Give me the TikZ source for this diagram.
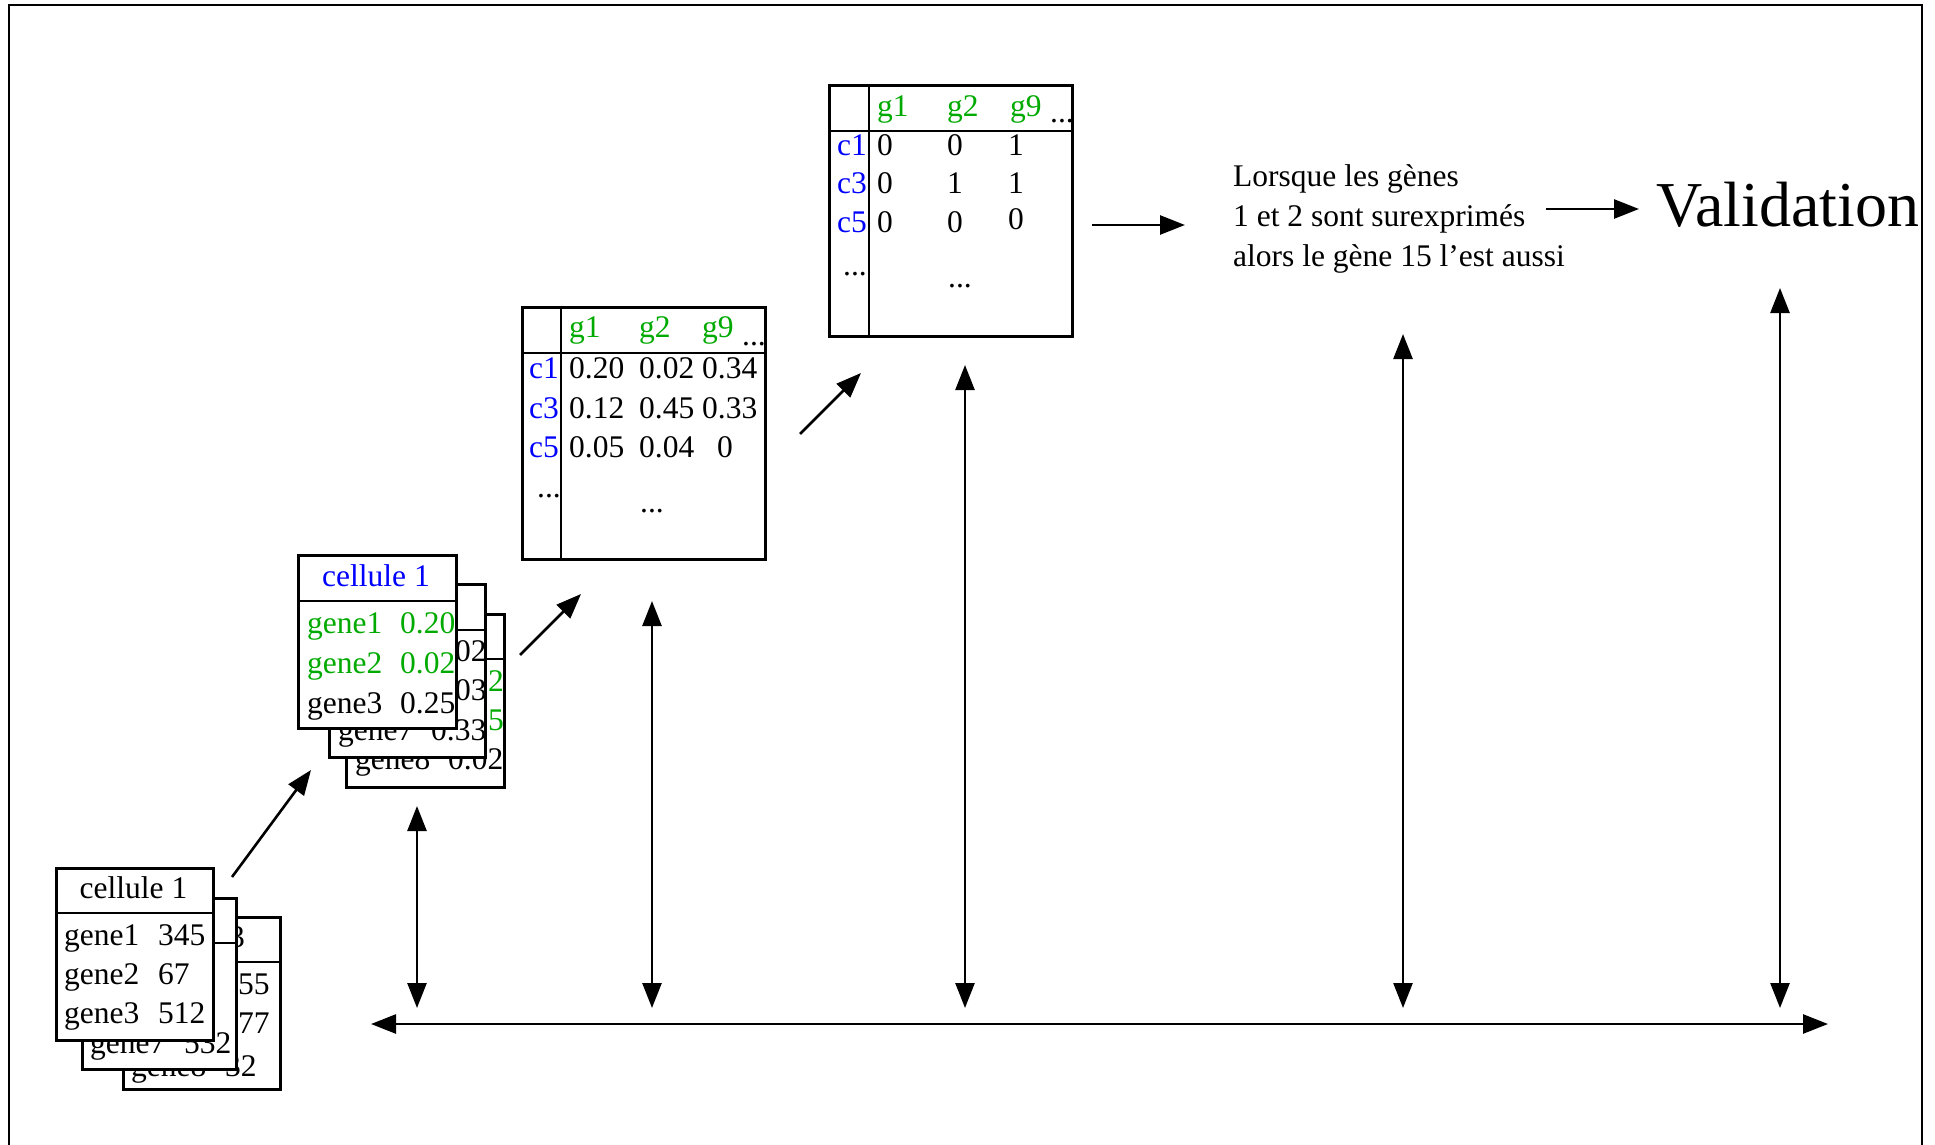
\documentclass[tikz,border=0pt]{standalone}
\usepackage{fontspec}
\setmainfont{Liberation Serif}
\usetikzlibrary{arrows.meta}
\definecolor{tgreen}{RGB}{0,170,0}
\definecolor{tblue}{RGB}{0,0,255}
\begin{document}
\begin{tikzpicture}[x=1pt,y=-1pt,
  txt/.style={anchor=base west,inner sep=0pt,font=\fontsize{31.5}{38}\selectfont},
  hdr/.style={txt,anchor=base},
  gtxt/.style={txt,text=tgreen},
  btxt/.style={txt,text=tblue},
  box/.style={draw,line width=2.6pt,fill=white,anchor=north west,inner sep=0pt},
  rulel/.style={line width=2.6pt},
  arr/.style={line width=2.6pt,-{Triangle[length=25pt,width=19pt]}},
  darr/.style={line width=2.6pt,{Triangle[length=25pt,width=19pt]}-{Triangle[length=25pt,width=19pt]}}]
\useasboundingbox (0,0) rectangle (1935,1145);
% frame
\draw[line width=2.5pt] (9,1150) -- (9,5) -- (1922,5) -- (1922,1150);

% ---------- set 1 (raw counts) ----------
\node[box,minimum width=157pt,minimum height=172pt] (s1c) at (122,916) {};
\draw[rulel] (122,962) -- (279,962);
\node[txt] (s1ch) at (229,947) {3};
\node[txt] (s1cv1) at (238,994) {55};
\node[txt] (s1cv2) at (238,1033) {77};
\node[txt] (s1cn3) at (131,1076) {gene8}; \node[txt] (s1cv3) at (225,1076) {32};

\node[box,minimum width=154pt,minimum height=171pt] (s1b) at (81,897) {};
\draw[rulel] (81,943) -- (235,943);
\node[txt] (s1bn3) at (90,1053) {gene7}; \node[txt] (s1bv3) at (184,1053) {532};

\node[box,minimum width=157pt,minimum height=172pt] (s1a) at (55,867) {};
\draw[rulel] (55,913) -- (212,913);
\node[hdr] (s1ah) at (133.5,898) {cellule 1};
\node[txt] (s1an1) at (64,945) {gene1}; \node[txt] (s1av1) at (158,945) {345};
\node[txt] (s1an2) at (64,984) {gene2}; \node[txt] (s1av2) at (158,984) {67};
\node[txt] (s1an3) at (64,1023) {gene3}; \node[txt] (s1av3) at (158,1023) {512};

% ---------- set 2 (normalised) ----------
\node[box,minimum width=158pt,minimum height=173pt] (s2c) at (345,613) {};
\draw[rulel] (345,659) -- (503,659);
\node[gtxt] (s2cv1) at (488,691) {2};
\node[gtxt] (s2cv2) at (488,730) {5};
\node[txt] (s2cn3) at (355,769) {gene8}; \node[txt] (s2cv3) at (448,769) {0.02};

\node[box,minimum width=156pt,minimum height=173pt] (s2b) at (328,583) {};
\draw[rulel] (328,630) -- (484,630);
\node[txt] (s2bv1) at (455,661) {02};
\node[txt] (s2bv2) at (455,700) {03};
\node[txt] (s2bn3) at (338,740) {gene7}; \node[txt] (s2bv3) at (431,740) {0.33};

\node[box,minimum width=158pt,minimum height=173pt] (s2a) at (297,554) {};
\draw[rulel] (297,601) -- (455,601);
\node[hdr,text=tblue] (s2ah) at (376,586) {cellule 1};
\node[gtxt] (s2an1) at (307,633) {gene1}; \node[gtxt] (s2av1) at (400,633) {0.20};
\node[gtxt] (s2an2) at (307,673) {gene2}; \node[gtxt] (s2av2) at (400,673) {0.02};
\node[txt] (s2an3) at (307,713) {gene3}; \node[txt] (s2av3) at (400,713) {0.25};

% ---------- matrix 1 ----------
\node[box,minimum width=243pt,minimum height=252pt] (m1) at (521,306) {};
\draw[rulel] (561,306) -- (561,558);
\draw[rulel] (521,353) -- (764,353);
\node[gtxt] (m1g1) at (569,337) {g1};
\node[gtxt] (m1g2) at (639,337) {g2};
\node[gtxt] (m1g9) at (702,337) {g9};
\node[txt] (m1hd) at (742,345) {...};
\node[btxt] (m1c1) at (529,378) {c1};
\node[btxt] (m1c3) at (529,418) {c3};
\node[btxt] (m1c5) at (529,457) {c5};
\node[txt] (m1v11) at (569,378) {0.20}; \node[txt] (m1v12) at (639,378) {0.02}; \node[txt] (m1v13) at (702,378) {0.34};
\node[txt] (m1v21) at (569,418) {0.12}; \node[txt] (m1v22) at (639,418) {0.45}; \node[txt] (m1v23) at (702,418) {0.33};
\node[txt] (m1v31) at (569,457) {0.05}; \node[txt] (m1v32) at (639,457) {0.04}; \node[txt] (m1v33) at (717,457) {0};
\node[txt] (m1rd) at (537,497) {...};
\node[txt] (m1cd) at (640,512) {...};

% ---------- matrix 2 ----------
\node[box,minimum width=243pt,minimum height=251pt] (m2) at (828,84) {};
\draw[rulel] (869,84) -- (869,335);
\draw[rulel] (828,131) -- (1071,131);
\node[gtxt] (m2g1) at (877,117) {g1};
\node[gtxt] (m2g2) at (947,117) {g2};
\node[gtxt] (m2g9) at (1010,117) {g9};
\node[txt] (m2hd) at (1050,123) {...};
\node[btxt] (m2c1) at (837,155) {c1};
\node[btxt] (m2c3) at (837,193) {c3};
\node[btxt] (m2c5) at (837,232) {c5};
\node[txt] (m2v11) at (877,155) {0}; \node[txt] (m2v12) at (947,155) {0}; \node[txt] (m2v13) at (1008,155) {1};
\node[txt] (m2v21) at (877,193) {0}; \node[txt] (m2v22) at (947,193) {1}; \node[txt] (m2v23) at (1008,193) {1};
\node[txt] (m2v31) at (877,232) {0}; \node[txt] (m2v32) at (947,232) {0}; \node[txt] (m2v33) at (1008,229) {0};
\node[txt] (m2rd) at (843,275) {...};
\node[txt] (m2cd) at (948,287) {...};

% ---------- rule text and validation ----------
\node[txt] (r1) at (1233,186) {Lorsque les gènes};
\node[txt] (r2) at (1233,226) {1 et 2 sont surexprimés};
\node[txt] (r3) at (1233,266) {alors le gène 15 l’est aussi};
\node[txt,font=\fontsize{64}{76}\selectfont] (val) at (1656,226) {Validation};

% ---------- arrows ----------
\coordinate (a1s) at (232,877); \coordinate (a1e) at (311,770);
\coordinate (a2s) at (520,655); \coordinate (a2e) at (581,594);
\coordinate (a3s) at (800,434); \coordinate (a3e) at (861,373);
\coordinate (a4s) at (1092,225); \coordinate (a4e) at (1185,225);
\coordinate (a5s) at (1546,209); \coordinate (a5e) at (1639,209);
\draw[arr] (a1s) -- (a1e);
\draw[arr] (a2s) -- (a2e);
\draw[arr] (a3s) -- (a3e);
\draw[arr] (a4s) -- (a4e);
\draw[arr] (a5s) -- (a5e);

\coordinate (v1t) at (417,806); \coordinate (v1b) at (417,1008);
\coordinate (v2t) at (652,601); \coordinate (v2b) at (652,1008);
\coordinate (v3t) at (965,365); \coordinate (v3b) at (965,1008);
\coordinate (v4t) at (1403,334); \coordinate (v4b) at (1403,1008);
\coordinate (v5t) at (1780,288); \coordinate (v5b) at (1780,1008);
\draw[darr] (v1t) -- (v1b);
\draw[darr] (v2t) -- (v2b);
\draw[darr] (v3t) -- (v3b);
\draw[darr] (v4t) -- (v4b);
\draw[darr] (v5t) -- (v5b);
\coordinate (hl) at (371,1024); \coordinate (hr) at (1828,1024);
\draw[darr] (hl) -- (hr);
\end{tikzpicture}
\end{document}
